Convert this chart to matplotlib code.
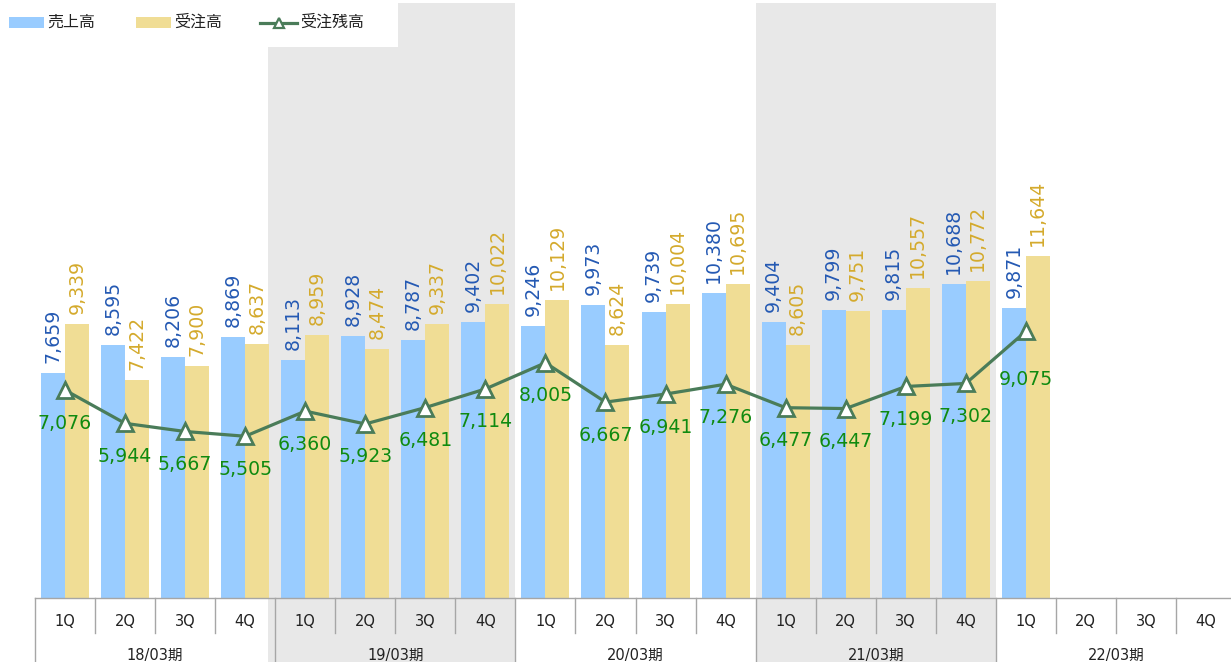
import matplotlib
matplotlib.use("Agg")
import matplotlib.pyplot as plt
from matplotlib.patches import Rectangle
from matplotlib.lines import Line2D
import matplotlib.transforms as mtransforms

quarters = ["1Q", "2Q", "3Q", "4Q"] * 5
years = ["18/03期", "19/03期", "20/03期", "21/03期", "22/03期"]
sales = [7659, 8595, 8206, 8869, 8113, 8928, 8787, 9402, 9246, 9973,
         9739, 10380, 9404, 9799, 9815, 10688, 9871]
orders = [9339, 7422, 7900, 8637, 8959, 8474, 9337, 10022, 10129, 8624,
          10004, 10695, 8605, 9751, 10557, 10772, 11644]
backlog = [7076, 5944, 5667, 5505, 6360, 5923, 6481, 7114, 8005, 6667,
           6941, 7276, 6477, 6447, 7199, 7302, 9075]
legend_labels = ["売上高", "受注高", "受注残高"]

C_BLUE = "#99ccff"
C_YEL = "#f0dd95"
C_LINE = "#4a7c59"
T_BLUE = "#2459b3"
T_YEL = "#d4aa2c"
T_GREEN = "#108a10"
GRAY = "#e8e8e8"
AXC = "#a6a6a6"
FONT = ["DejaVu Sans", "Noto Sans CJK JP"]
LFS = 13.6

W, H = 1231, 662
fig = plt.figure(figsize=(W / 100, H / 100), dpi=100)
x0, x1 = 35, 1236
ybase, ytop = 598, 3
ax = fig.add_axes([x0 / W, (H - ybase) / H, (x1 - x0) / W, (ybase - ytop) / H])
n = len(quarters)
ax.set_xlim(-0.5, n - 0.5)
ax.set_ylim(0, 20250)
ax.axis("off")

slot_px = (x1 - x0) / n
below = (H - ybase) / (ybase - ytop)  # axes fraction for axis area below baseline
trans = mtransforms.blended_transform_factory(ax.transData, ax.transAxes)

# shaded fiscal-year bands (19/03 and 21/03)
for yi, shift in [(1, 7 / slot_px), (3, 0.0)]:
    xs = yi * 4 - 0.5 - shift
    ax.add_patch(Rectangle((xs, -below), 4 + shift, 1 + below, transform=trans,
                           facecolor=GRAY, edgecolor="none", zorder=0, clip_on=False))

xs_s = list(range(len(sales)))
bw = 0.4
ax.bar([x - bw / 2 for x in xs_s], sales, width=bw, color=C_BLUE, zorder=2)
ax.bar([x + bw / 2 for x in range(len(orders))], orders, width=bw, color=C_YEL, zorder=2)
ax.plot(range(len(backlog)), backlog, color=C_LINE, lw=2.3, marker="^", ms=11,
        mfc="white", mec=C_LINE, mew=2, zorder=4)

for i, v in enumerate(sales):
    ax.annotate(f"{v:,}", (i - bw / 2, v), xytext=(0, 10), textcoords="offset pixels",
                rotation=90, ha="center", va="bottom", color=T_BLUE, fontsize=LFS,
                family=FONT, zorder=5)
for i, v in enumerate(orders):
    ax.annotate(f"{v:,}", (i + bw / 2, v), xytext=(0, 10), textcoords="offset pixels",
                rotation=90, ha="center", va="bottom", color=T_YEL, fontsize=LFS,
                family=FONT, zorder=5)
for i, v in enumerate(backlog):
    off = -48 if i == len(backlog) - 1 else -33
    ax.annotate(f"{v:,}", (i, v), xytext=(0, off), textcoords="offset pixels",
                ha="center", va="center", color=T_GREEN, fontsize=LFS,
                family=FONT, zorder=5)

# category axis (two-level)
ax.plot([-0.5, n - 0.5], [0, 0], transform=trans, color=AXC, lw=1, clip_on=False, zorder=3)
q_len = (633 - ybase) / (ybase - ytop)
for k in range(n + 1):
    xb = k - 0.5
    yend = -below if k % 4 == 0 else -q_len
    ax.plot([xb, xb], [0, yend], transform=trans, color=AXC, lw=1, clip_on=False, zorder=3)
for i, q in enumerate(quarters):
    ax.text(i, -(621 - ybase) / (ybase - ytop), q, transform=trans, ha="center",
            va="center", fontsize=10.5, family=FONT, color="#222222")
for j, yl in enumerate(years):
    ax.text(j * 4 + 1.5, -(655 - ybase) / (ybase - ytop), yl, transform=trans,
            ha="center", va="center", fontsize=10.5, family=FONT, color="#222222")

# legend (white box top-left)
fig.patches.append(Rectangle((0, 1 - 47 / H), 398 / W, 47 / H, transform=fig.transFigure,
                             facecolor="white", edgecolor="none", zorder=6))
ly = 1 - 22.5 / H
fig.patches.append(Rectangle((9 / W, 1 - 28 / H), 35 / W, 11 / H, transform=fig.transFigure,
                             facecolor=C_BLUE, edgecolor="none", zorder=7))
fig.patches.append(Rectangle((136 / W, 1 - 28 / H), 35 / W, 11 / H, transform=fig.transFigure,
                             facecolor=C_YEL, edgecolor="none", zorder=7))
fig.lines.append(Line2D([260 / W, 297 / W], [ly, ly], transform=fig.transFigure,
                        color=C_LINE, lw=2.3, zorder=7))
fig.lines.append(Line2D([278.5 / W], [ly], transform=fig.transFigure, marker="^", ms=7,
                        mfc="white", mec=C_LINE, mew=1.6, color=C_LINE, zorder=8))
for xt, lab in zip([47, 174, 300], legend_labels):
    fig.text(xt / W, ly, lab, ha="left", va="center", fontsize=11.5,
             family=["Noto Sans CJK JP", "DejaVu Sans"], color="#222222", zorder=8)

fig.savefig("out.png", dpi=100)
